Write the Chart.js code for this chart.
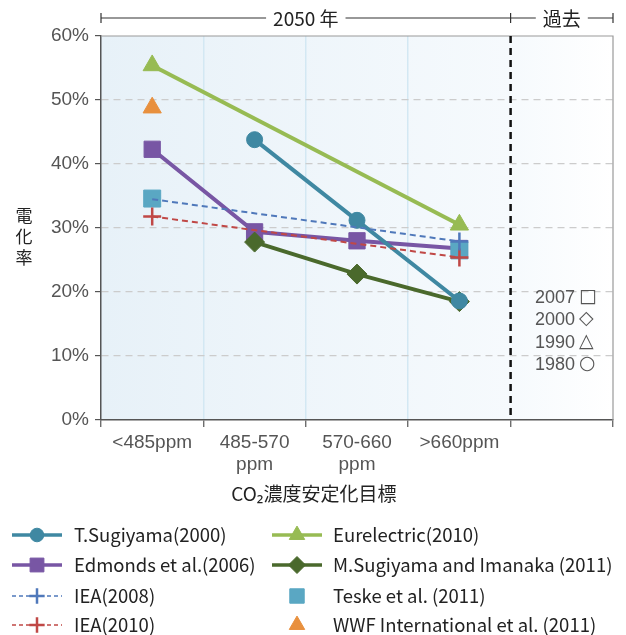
<!DOCTYPE html>
<html>
<head>
<meta charset="utf-8">
<script src="https://cdn.jsdelivr.net/npm/chart.js@4/dist/chart.umd.min.js"></script>
<style>
  html, body { margin: 0; padding: 0; background: #fff; overflow: hidden; }
  canvas { display: block; }
</style>
</head>
<body>
<canvas id="chart" width="626" height="635"></canvas>
<script>
// categories on the x axis (last slot is the "過去" column)
const categories = ["<485ppm", ["485-570", "ppm"], ["570-660", "ppm"], ">660ppm", ""];
const yTicks = [0, 10, 20, 30, 40, 50, 60];

// electrification rate (%)
const tSugiyama   = [null, 43.8, 31.2, 18.6, null];
const edmonds     = [42.3, 29.4, 28.0, 26.8, null];
const iea2008     = [34.5, null, null, 27.9, null];
const iea2010     = [31.8, null, null, 25.4, null];
const eurelectric = [55.4, null, null, 30.5, null];
const mSugiyama   = [null, 27.8, 22.8, 18.5, null];
const teske       = [34.6, null, null, 26.5, null];
const wwf         = [48.8, null, null, null, null];

const pastYears = ["2007", "2000", "1990", "1980"];
const pastSymbols = ["□", "◇", "△", "○"];

const legendLeft = ["T.Sugiyama(2000)", "Edmonds et al.(2006)", "IEA(2008)", "IEA(2010)"];
const legendRight = ["Eurelectric(2010)", "M.Sugiyama and Imanaka (2011)", "Teske et al. (2011)", "WWF International et al. (2011)"];

const JP = '"Noto Sans CJK JP", "Noto Sans", sans-serif';
const LAT = '"Liberation Sans", Arial, sans-serif';

function lineSet(label, data, color, style, radius, extra) {
  return Object.assign({
    label, data,
    borderColor: color, backgroundColor: color,
    pointBackgroundColor: color, pointBorderColor: color,
    borderWidth: 4, pointStyle: style, pointRadius: radius, pointHoverRadius: radius,
    pointBorderWidth: 1, spanGaps: true, tension: 0,
  }, extra || {});
}

const datasets = [
  lineSet("T.Sugiyama(2000)", tSugiyama, "#3f88a2", "circle", 8, { order: 4 }),
  lineSet("Edmonds et al.(2006)", edmonds, "#7856a4", "rect", 11.5, { order: 6 }),
  // the + at <485ppm sits hidden under the Teske square in the original
  lineSet("IEA(2008)", iea2008, "#4f78ba", "cross", 9, { borderWidth: 2, pointBorderWidth: 2.5, borderDash: [6, 4], order: 2,
    pointRadius: c => (c.dataIndex === 0 ? 0 : 9) }),
  lineSet("IEA(2010)", iea2010, "#c04846", "cross", 9, { borderWidth: 2, pointBorderWidth: 2.5, borderDash: [6, 4], order: 2 }),
  lineSet("Eurelectric(2010)", eurelectric, "#97bb53", "triangle", 10.5, { order: 7 }),
  lineSet("M.Sugiyama and Imanaka (2011)", mSugiyama, "#4a692c", "rectRot", 10, { order: 5 }),
  lineSet("Teske et al. (2011)", teske, "#5aa7c3", "rect", 12, { showLine: false, order: 3 }),
  lineSet("WWF International et al. (2011)", wwf, "#e8903e", "triangle", 10.5, { showLine: false, order: 1 }),
];

function boundary(xs, i) {
  const w = (xs.right - xs.left) / categories.length;
  return xs.left + w * i;
}

const decor = {
  id: "decor",
  beforeDraw(chart) {
    const { ctx, chartArea: a } = chart;
    const g = ctx.createLinearGradient(a.left, 0, a.right, 0);
    g.addColorStop(0, "#e7f1f8");
    g.addColorStop(0.8, "#f6fafd");
    g.addColorStop(1, "#ffffff");
    ctx.save();
    ctx.fillStyle = g;
    ctx.fillRect(a.left, a.top, a.right - a.left, a.bottom - a.top);
    ctx.restore();
  },
  beforeDatasetsDraw(chart) {
    const { ctx, chartArea: a } = chart;
    const xs = chart.scales.x;
    const bx = boundary(xs, 4);
    ctx.save();
    // frame top and right
    ctx.strokeStyle = "#9a9a9a";
    ctx.lineWidth = 1.2;
    ctx.beginPath();
    ctx.moveTo(a.left, a.top);
    ctx.lineTo(a.right, a.top);
    ctx.lineTo(a.right, a.bottom);
    ctx.stroke();
    // 2050 / past divider
    ctx.strokeStyle = "#111";
    ctx.lineWidth = 2.5;
    ctx.setLineDash([7, 5]);
    ctx.beginPath();
    ctx.moveTo(bx, a.top);
    ctx.lineTo(bx, a.bottom);
    ctx.stroke();
    ctx.restore();
  },
  afterDraw(chart) {
    const { ctx, chartArea: a } = chart;
    const xs = chart.scales.x;
    const ys = chart.scales.y;
    const bx = boundary(xs, 4);
    ctx.save();

    // top bracket: 2050 年 / 過去
    const ty = 18;
    ctx.strokeStyle = "#333";
    ctx.lineWidth = 1.2;
    ctx.beginPath();
    ctx.moveTo(a.left, ty); ctx.lineTo(a.right, ty);
    [a.left, bx, a.right].forEach(x => { ctx.moveTo(x, ty - 5); ctx.lineTo(x, ty + 5); });
    ctx.stroke();
    ctx.font = `19px ${JP}`;
    ctx.textAlign = "center";
    ctx.textBaseline = "middle";
    [["2050 年", (a.left + bx) / 2], ["過去", (bx + a.right) / 2]].forEach(([t, x]) => {
      const w = ctx.measureText(t).width + 14;
      ctx.fillStyle = "#fff";
      ctx.fillRect(x - w / 2, ty - 6, w, 12);
      ctx.fillStyle = "#222";
      ctx.fillText(t, x, ty + 1);
    });

    // y axis title, stacked
    ctx.font = `17px ${JP}`;
    ctx.fillStyle = "#222";
    ["電", "化", "率"].forEach((c, i) => ctx.fillText(c, 24, 216 + i * 21));

    // x axis title
    ctx.font = `19px ${JP}`;
    ctx.fillText("CO₂濃度安定化目標", (a.left + bx) / 2 + 8, 494);

    // past column labels
    ctx.fillStyle = "#555";
    pastYears.forEach((yr, i) => {
      const y = ys.getPixelForValue(19.2) + i * 22.3;
      ctx.textAlign = "right";
      ctx.font = `18px ${LAT}`;
      ctx.fillText(yr + " ", 580, y + 1);
      ctx.textAlign = "left";
      ctx.font = `19px "DejaVu Sans", sans-serif`;
      ctx.fillText(pastSymbols[i], 579, y);
    });

    // legend (two columns, column-major)
    const rows = [535, 565, 596, 625];
    const cols = [{ names: legendLeft, x0: 12, tx: 74 }, { names: legendRight, x0: 272, tx: 333 }];
    ctx.textAlign = "left";
    ctx.font = `18.5px ${JP}`;
    cols.forEach(col => {
      col.names.forEach((name, r) => {
        const ds = chart.data.datasets.find(d => d.label === name);
        const y = rows[r];
        const cx = col.x0 + 25;
        const rad = typeof ds.pointRadius === "function" ? 9 : ds.pointRadius;
        ctx.save();
        if (ds.showLine !== false) {
          ctx.strokeStyle = ds.borderColor;
          ctx.lineWidth = ds.borderWidth === 2 ? 1.3 : 3.5;
          ctx.setLineDash(ds.borderDash ? [4, 3] : []);
          ctx.beginPath();
          ctx.moveTo(col.x0, y); ctx.lineTo(col.x0 + 50, y);
          ctx.stroke();
        }
        ctx.setLineDash([]);
        ctx.fillStyle = ds.pointBackgroundColor;
        ctx.strokeStyle = ds.pointBorderColor;
        ctx.lineWidth = ds.pointBorderWidth;
        Chart.helpers.drawPoint(ctx, {
          pointStyle: ds.pointStyle, rotation: 0,
          radius: rad * 0.85, borderWidth: ds.pointBorderWidth,
        }, cx, y);
        ctx.restore();
        ctx.fillStyle = "#222";
        ctx.fillText(name, col.tx, y);
      });
    });
    ctx.restore();
  },
};

new Chart(document.getElementById("chart"), {
  type: "line",
  data: { labels: categories, datasets },
  options: {
    responsive: false,
    animation: false,
    devicePixelRatio: 1,
    layout: { padding: { top: 36, right: 13, left: 0, bottom: 0 } },
    plugins: { legend: { display: false }, tooltip: { enabled: false } },
    scales: {
      x: {
        type: "category",
        offset: true,
        afterFit: s => { s.height = 215; },
        grid: {
          offset: true,
          lineWidth: 1.5,
          tickLength: 7,
          tickColor: "#555",
          tickWidth: 1.2,
          color: c => (c.index >= 1 && c.index <= 3) ? "#d3e8f3" : "rgba(0,0,0,0)",
        },
        border: { display: true, color: "#555", width: 1.5 },
        ticks: { color: "#555", font: { family: LAT, size: 19 }, padding: 4, maxRotation: 0, autoSkip: false },
      },
      y: {
        min: 0, max: 60,
        afterFit: s => { s.width = 101; },
        afterBuildTicks: s => { s.ticks = yTicks.map(v => ({ value: v })); },
        grid: {
          lineWidth: 1.2,
          tickLength: 6,
          tickColor: "#555",
          tickWidth: 1.2,
          color: c => (c.tick && (c.tick.value === 0 || c.tick.value === 60)) ? "rgba(0,0,0,0)" : "#cccccc",
        },
        border: { display: true, color: "#555", width: 1.5, dash: [7, 5] },
        ticks: { color: "#555", font: { family: LAT, size: 19 }, padding: 6, callback: v => v + "%" },
      },
    },
  },
  plugins: [decor],
});
</script>
</body>
</html>
